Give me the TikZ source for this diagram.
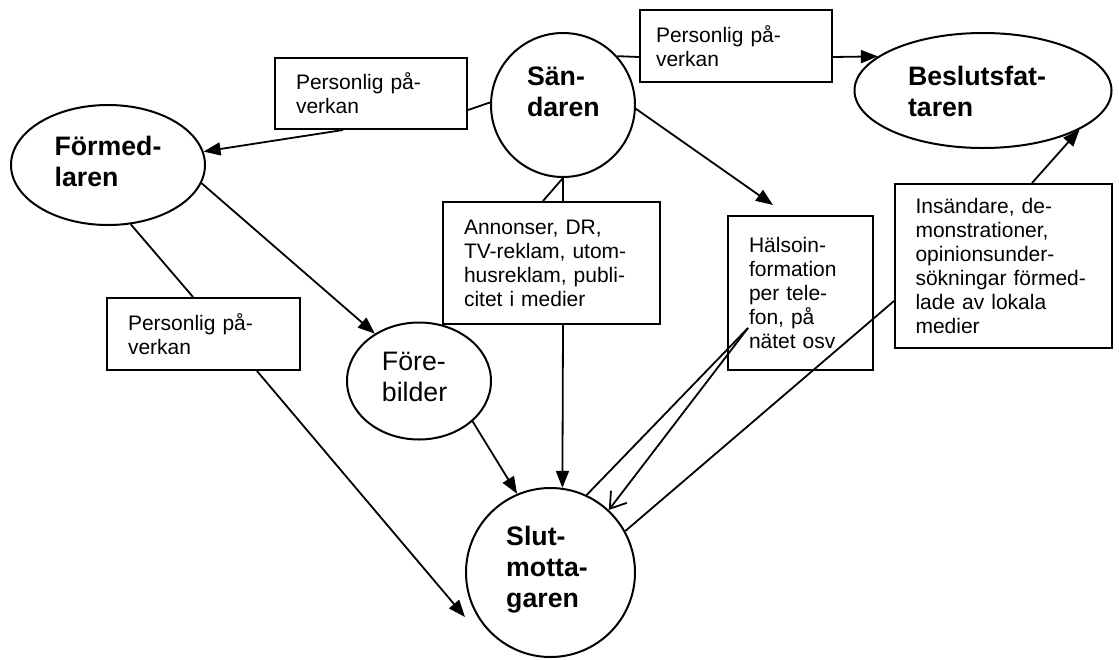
\documentclass[tikz,border=0pt]{standalone}
\usepackage{fontspec}
\setmainfont{Liberation Sans}
\usetikzlibrary{arrows.meta,shapes.geometric,calc}
\begin{document}
\begin{tikzpicture}[x=1pt,y=-1pt,
  conn/.style={line width=1.8pt},
  arr/.style={conn,-{Triangle[length=17pt,width=13pt]}},
  openarr/.style={conn,-{Straight Barb[length=15pt,width=20pt]}},
  box/.style={draw, line width=2pt, rectangle, inner xsep=21pt, inner ysep=0pt,
    align=left, font=\fontsize{21}{24}\selectfont, anchor=north west},
  oval/.style={draw, line width=2pt, ellipse, inner sep=0pt},
  round/.style={draw, line width=2pt, circle, inner sep=0pt},
  bigb/.style={font=\fontsize{26.7}{31}\selectfont\bfseries, align=left, inner sep=0pt},
  bigr/.style={font=\fontsize{26.7}{31}\selectfont, align=left, inner sep=0pt}]
\fill[white] (0,0) rectangle (1119,659);
\useasboundingbox (0,0) rectangle (1119,659);

% boxes
\node[box, minimum width=192pt, minimum height=71pt, text width=150pt] (pa) at (274,57) {Personlig på-\\verkan};
\node[box, inner xsep=16pt, minimum width=192pt, minimum height=72pt, text width=160pt] (pb) at (639,9) {Personlig på-\\verkan};
\node[box, minimum width=193pt, minimum height=72pt, text width=151pt] (pc) at (106,297) {Personlig på-\\verkan};
\node[box, minimum width=217pt, minimum height=122pt, text width=175pt] (An) at (442,201) {Annonser, DR,\\TV-reklam, utom-\\husreklam, publi-\\citet i medier};
\node[box, minimum width=145pt, minimum height=154pt, text width=103pt] (H) at (727,215) {Hälsoin-\\formation\\per tele-\\fon, på\\nätet osv};
\node[box, minimum width=217pt, minimum height=164pt, text width=176pt, inner xsep=20.5pt] (I) at (894,183) {Insändare, de-\\monstrationer,\\opinionsunder-\\sökningar förmed-\\lade av lokala\\medier};

% ellipses and circles
\node[round, minimum size=144pt] (S) at (563,105) {};
\node[oval, minimum width=194pt, minimum height=120pt] (Fm) at (108,165) {};
\node[oval, minimum width=257pt, minimum height=115pt] (Be) at (983,90.5) {};
\node[round, minimum size=169pt] (Sl) at (550.5,572.5) {};
\node[oval, minimum width=144pt, minimum height=117pt] (Fb) at (419,381) {};

% texts of the ellipses
\node[bigb] (St) at (563.4,92) {Sän-\\daren};
\node[bigb] (Fmt) at (108,161) {Förmed-\\laren};
\node[bigb] (Bet) at (977,91) {Beslutsfat-\\taren};
\node[bigb] (Slt) at (547,569.5) {Slut-\\motta-\\garen};
\node[bigr] (Fbt) at (414.6,377) {Före-\\bilder};

% helper coordinates
\coordinate (ct) at ($(Sl.center)+(-85.5,44.5)$);
\coordinate (hp) at ($(H.north west)+(21,113)$);

% connectors
\draw[conn] (S.178) -- ($(pa.south east)+(0,-20)$);
\draw[arr] ($(pa.south west)+(69,0)$) -- (Fm.8);
\draw[conn] (S.42) -- ($(pb.north west)+(0,48)$);
\draw[arr] ($(pb.north east)+(0,48)$) -- (Be.162);
\draw[arr] (S.-3) -- ($(H.north west)+(46,-10)$);
\draw[conn] (S.south) -- (An.north -| S.south);
\draw[conn] (S.south) -- ($(An.north west)+(101,0)$);
\draw[arr] (An.south -| S.south) -- (Sl.82);
\draw[arr] (Fm.-11) -- (Fb.133);
\draw[conn] (Fm.-69) -- ($(pc.north west)+(87,0)$);
\draw[arr] ($(pc.south west)+(151,0)$) -- (ct);
\draw[arr] (Fb.-37) -- (Sl.113);
\draw[conn] (hp) -- (Sl.65);
\draw[openarr] (hp) -- (Sl.47);
\draw[arr] ($(I.north)+(28.5,0)$) -- (Be.-22);
\draw[conn] ($(I.west)+(0,35)$) -- (Sl.29);
\end{tikzpicture}
\end{document}
